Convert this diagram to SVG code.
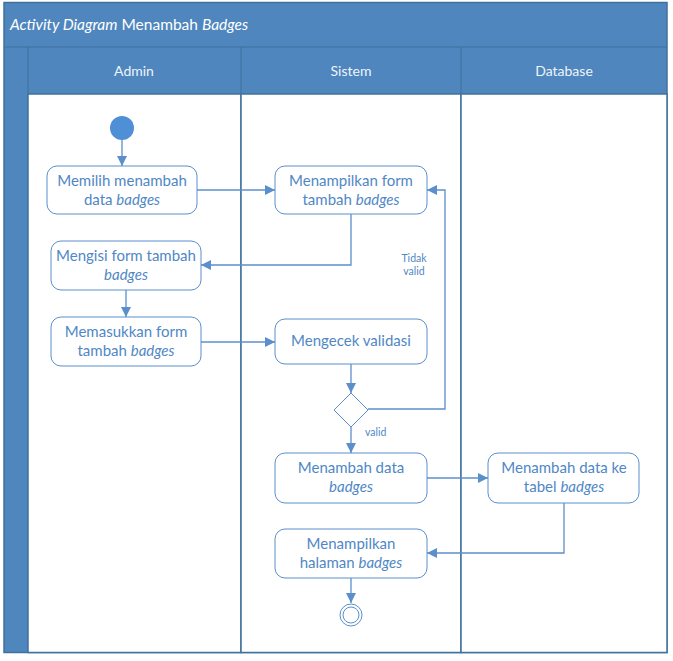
<svg xmlns="http://www.w3.org/2000/svg" width="673" height="661" viewBox="0 0 673 661">
<defs>
<style>
.frame{fill:#4f86be;stroke:#41719c;stroke-width:1.5}
.lane{fill:#ffffff;stroke:#41719c;stroke-width:1.5}
.ht{font-family:Lato,"Liberation Sans",sans-serif;font-size:14px;fill:#eef4fb;text-anchor:middle}
.tt{font-family:Lato,"Liberation Sans",sans-serif;font-size:15.5px;fill:#ffffff}
.node rect{fill:#ffffff;stroke:#5b8fcc;stroke-width:1}
.nt{font-family:Lato,"Liberation Sans",sans-serif;font-size:15px;fill:#4f87c6;text-anchor:middle}
.lbl{font-family:Lato,"Liberation Sans",sans-serif;font-size:10.5px;fill:#4f87c6}
.c{fill:none;stroke:#5b8fcc;stroke-width:1.3}
</style>
<marker id="ah" viewBox="0 0 10 10" refX="10" refY="5" markerWidth="10" markerHeight="10" markerUnits="userSpaceOnUse" orient="auto">
<path d="M0,0 L10,5 L0,10 z" fill="#5b8fcc"/>
</marker>
</defs>
<rect x="0" y="0" width="673" height="661" fill="#ffffff"/>
<g id="frame">
<rect class="frame" x="4" y="2.5" width="663" height="650"/>
<rect class="lane" x="28" y="94" width="213" height="558.5"/>
<rect class="lane" x="241" y="94" width="220" height="558.5"/>
<rect class="lane" x="461" y="94" width="206" height="558.5"/>
<line x1="4" y1="47" x2="667" y2="47" stroke="#41719c" stroke-width="1"/>
<line x1="28" y1="47" x2="28" y2="94" stroke="#41719c" stroke-width="1"/>
<line x1="241" y1="47" x2="241" y2="94" stroke="#41719c" stroke-width="1"/>
<line x1="461" y1="47" x2="461" y2="94" stroke="#41719c" stroke-width="1"/>
<text class="tt" x="10" y="30"><tspan font-style="italic">Activity Diagram</tspan> Menambah <tspan font-style="italic">Badges</tspan></text>
<text class="ht" x="134" y="76">Admin</text>
<text class="ht" x="351" y="76">Sistem</text>
<text class="ht" x="564" y="76">Database</text>
</g>
<g id="connectors">
<line class="c" x1="122" y1="140" x2="122" y2="166" marker-end="url(#ah)"/>
<line class="c" x1="197" y1="190" x2="275" y2="190" marker-end="url(#ah)"/>
<polyline class="c" points="351,214 351,265 201,265" marker-end="url(#ah)"/>
<line class="c" x1="126" y1="290" x2="126" y2="317" marker-end="url(#ah)"/>
<line class="c" x1="201" y1="342" x2="275" y2="342" marker-end="url(#ah)"/>
<line class="c" x1="351" y1="364" x2="351" y2="393" marker-end="url(#ah)"/>
<polyline class="c" points="368,409 445,409 445,190 427,190" marker-end="url(#ah)"/>
<line class="c" x1="351" y1="427" x2="351" y2="453" marker-end="url(#ah)"/>
<line class="c" x1="427" y1="478" x2="488" y2="478" marker-end="url(#ah)"/>
<polyline class="c" points="564,503 564,553 427,553" marker-end="url(#ah)"/>
<line class="c" x1="351" y1="578" x2="351" y2="603" marker-end="url(#ah)"/>
<text class="lbl" x="414" y="262" text-anchor="middle">Tidak</text>
<text class="lbl" x="414" y="275" text-anchor="middle">valid</text>
<text class="lbl" x="365" y="436">valid</text>
</g>
<g id="start"><circle cx="122" cy="128" r="12" fill="#4f8fd6"/></g>
<g id="n1" class="node"><rect x="47" y="166" width="150" height="48" rx="10"/>
<text class="nt" x="122" y="186">Memilih menambah</text><text class="nt" x="122" y="205">data <tspan font-style="italic">badges</tspan></text></g>
<g id="n2" class="node"><rect x="275" y="166" width="152" height="48" rx="10"/>
<text class="nt" x="351" y="186">Menampilkan form</text><text class="nt" x="351" y="205">tambah <tspan font-style="italic">badges</tspan></text></g>
<g id="n3" class="node"><rect x="51" y="241" width="150" height="49" rx="10"/>
<text class="nt" x="126" y="261">Mengisi form tambah</text><text class="nt" x="126" y="280"><tspan font-style="italic">badges</tspan></text></g>
<g id="n4" class="node"><rect x="51" y="317" width="150" height="49" rx="10"/>
<text class="nt" x="126" y="337">Memasukkan form</text><text class="nt" x="126" y="356">tambah <tspan font-style="italic">badges</tspan></text></g>
<g id="n5" class="node"><rect x="275" y="319" width="152" height="45" rx="10"/>
<text class="nt" x="351" y="346">Mengecek validasi</text></g>
<g id="decision"><polygon points="351,393 368,410 351,427 334,410" fill="#ffffff" stroke="#5b8fcc" stroke-width="1"/></g>
<g id="n6" class="node"><rect x="275" y="453" width="152" height="50" rx="10"/>
<text class="nt" x="351" y="473">Menambah data</text><text class="nt" x="351" y="492"><tspan font-style="italic">badges</tspan></text></g>
<g id="n7" class="node"><rect x="488" y="453" width="151" height="50" rx="10"/>
<text class="nt" x="564" y="473">Menambah data ke</text><text class="nt" x="564" y="492">tabel <tspan font-style="italic">badges</tspan></text></g>
<g id="n8" class="node"><rect x="275" y="529" width="152" height="49" rx="10"/>
<text class="nt" x="351" y="549">Menampilkan</text><text class="nt" x="351" y="568">halaman <tspan font-style="italic">badges</tspan></text></g>
<g id="end"><circle cx="351" cy="615" r="11" fill="#ffffff" stroke="#5b8fcc" stroke-width="1"/><circle cx="351" cy="615" r="8" fill="#ffffff" stroke="#5b8fcc" stroke-width="1"/></g>
</svg>
